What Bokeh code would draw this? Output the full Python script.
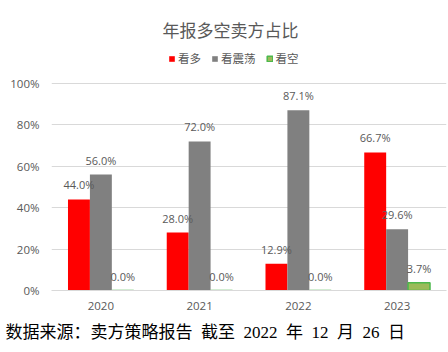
from bokeh.plotting import figure
from bokeh.models import (ColumnDataSource, LabelSet, Label, Legend, LegendItem, Title,
                          Range1d, FactorRange, PrintfTickFormatter, FixedTicker)
from bokeh.transform import dodge
from bokeh.core.properties import value
from bokeh.embed import file_html
from bokeh.resources import INLINE

# ---- data ----
years = ["2020", "2021", "2022", "2023"]
bullish = [44.0, 28.0, 12.9, 66.7]   # 看多
neutral = [56.0, 72.0, 87.1, 29.6]   # 看震荡
bearish = [0.0, 0.0, 0.0, 3.7]       # 看空
series_names = ["看多", "看震荡", "看空"]
y_ticks = [0, 20, 40, 60, 80, 100]
title_text = "年报多空卖方占比"
source_text = "数据来源：卖方策略报告\u00a0 截至\u00a0 2022\u00a0 年\u00a0 12\u00a0 月\u00a0 26\u00a0 日"

# ---- layout ----
W, H = 448, 352
FL, FR, FT, FB = 51, 446, 83, 290      # plot area for 0..100 %
CAT_PX = (FR - FL) / len(years)
Y_END = 100.0 * FB / (FB - FT)          # frame extends to canvas top (room for title/legend)
TXT = "#595959"
CJK = "Noto Sans CJK SC"
NUM = "Open Sans, Noto Sans CJK SC"

def sx(px):
    return (px - FL) / CAT_PX

def sy(py):
    return (FB - py) / (FB - FT) * 100.0

src = ColumnDataSource(dict(
    year=years,
    bull=bullish, neu=neutral, bear=bearish,
    bull_t=[f"{v:.1f}%" for v in bullish],
    neu_t=[f"{v:.1f}%" for v in neutral],
    bear_t=[f"{v:.1f}%" for v in bearish],
))

p = figure(width=W, height=H, x_range=FactorRange(factors=years, range_padding=0),
           y_range=Range1d(0, Y_END), output_backend="svg", toolbar_location=None,
           title=None,
           min_border_left=FL, min_border_right=W - FR,
           min_border_top=0, min_border_bottom=H - FB)
p.outline_line_color = None
p.background_fill_color = "white"
p.border_fill_color = "white"

bw = 0.222
specs = [
    ("bull", -bw, "#FF0000", None),
    ("neu", 0.0, "#808080", None),
    ("bear", bw, "#9BBB59", "#4CB84C"),
]
renderers = []
for col, off, fc, lc in specs:
    r = p.vbar(x=dodge("year", off, range=p.x_range), top=col, width=bw, source=src,
               fill_color=fc, line_color=lc, line_width=1.5 if lc else 1)
    renderers.append(r)
    p.add_layout(LabelSet(x=dodge("year", off, range=p.x_range), y=col, text=col + "_t",
                          source=src, text_align="center", text_baseline="alphabetic",
                          y_offset=10, text_font_size="11px", text_color=TXT,
                          text_font=value(NUM)))

# axes
p.yaxis.ticker = FixedTicker(ticks=y_ticks)
p.yaxis.formatter = PrintfTickFormatter(format="%d%%")
p.yaxis.axis_line_color = None
p.yaxis.major_tick_line_color = None
p.yaxis.minor_tick_line_color = None
p.yaxis.major_label_standoff = 6
p.yaxis.major_label_text_font_size = "11.5px"
p.yaxis.major_label_text_color = TXT
p.yaxis.major_label_text_font = NUM

p.xaxis.axis_line_color = "#D9D9D9"
p.xaxis.major_tick_line_color = None
p.xaxis.minor_tick_line_color = None
p.xaxis.major_label_standoff = 5
p.xaxis.major_label_text_font_size = "11.5px"
p.xaxis.major_label_text_color = TXT
p.xaxis.major_label_text_font = NUM

p.xgrid.grid_line_color = None
p.ygrid.grid_line_color = "#D9D9D9"

# legend (inside the frame, above the 100% line)
legend = Legend(items=[LegendItem(label=n, renderers=[r]) for n, r in zip(series_names, renderers)],
                orientation="horizontal", location=(117, 224),
                glyph_width=7, glyph_height=7, label_standoff=3, spacing=10,
                label_height=12, label_text_font_size="11.5px", label_text_color=TXT,
                label_text_font=CJK, padding=0, margin=0,
                background_fill_alpha=0, border_line_color=None)
p.add_layout(legend)

# title
p.add_layout(Label(x=sx(230), y=sy(29), text=title_text,
                   text_align="center", text_baseline="middle", text_font_size="17px",
                   text_color=TXT, text_font=CJK))

# source note
p.add_layout(Title(text=source_text, align="left", offset=5 - FL, standoff=17,
                   text_font_size="17px", text_font="Liberation Serif, Noto Sans CJK SC",
                   text_color="#000000", text_font_style="normal"), "below")

open("out.html", "w").write(file_html(p, INLINE))
